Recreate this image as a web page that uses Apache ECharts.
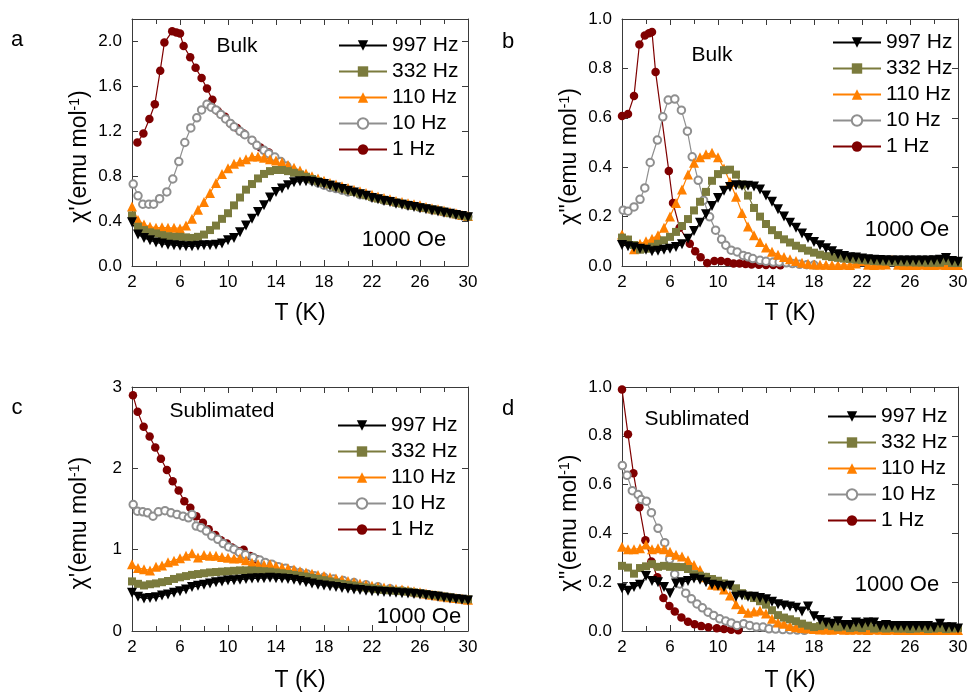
<!DOCTYPE html>
<html><head><meta charset="utf-8">
<script src="https://cdn.jsdelivr.net/npm/echarts@6.0.0/dist/echarts.min.js"></script>
<style>html,body{margin:0;padding:0;background:#fff}#c{width:972px;height:693px}</style>
</head><body><div id="c"></div>
<script>
// ---------- data ----------
const T05 = [2,2.5,3,3.5,4,4.5,5,5.5,6,6.5,7,7.5,8,8.5,9,9.5,10,10.5,11,11.5,12,12.5,13,13.5,14,14.5,15,15.5,16,16.5,17,17.5,18,18.5,19,19.5,20,20.5,21,21.5,22,22.5,23,23.5,24,24.5,25,25.5,26,26.5,27,27.5,28,28.5,29,29.5,30];

// panel a : bulk chi'
const a997 = [0.39,0.28,0.25,0.23,0.21,0.20,0.19,0.185,0.18,0.175,0.175,0.18,0.185,0.185,0.19,0.20,0.23,0.25,0.30,0.36,0.42,0.48,0.54,0.61,0.66,0.69,0.72,0.745,0.755,0.755,0.75,0.74,0.73,0.715,0.70,0.685,0.67,0.655,0.64,0.625,0.605,0.595,0.58,0.57,0.555,0.545,0.535,0.525,0.515,0.505,0.495,0.485,0.475,0.465,0.455,0.445,0.435];
const a332 = [0.45,0.35,0.32,0.30,0.29,0.275,0.265,0.26,0.26,0.255,0.25,0.26,0.28,0.32,0.36,0.42,0.47,0.54,0.61,0.68,0.73,0.78,0.82,0.845,0.855,0.855,0.845,0.83,0.815,0.795,0.775,0.755,0.74,0.725,0.705,0.69,0.675,0.66,0.645,0.63,0.615,0.60,0.59,0.58,0.565,0.555,0.545,0.535,0.525,0.515,0.505,0.495,0.485,0.47,0.46,0.45,0.44];
const a110 = [0.53,0.41,0.37,0.35,0.34,0.345,0.34,0.34,0.335,0.36,0.42,0.50,0.57,0.65,0.74,0.82,0.87,0.91,0.93,0.95,0.975,0.975,0.965,0.95,0.94,0.925,0.90,0.875,0.85,0.825,0.80,0.78,0.76,0.74,0.725,0.71,0.695,0.68,0.665,0.65,0.635,0.62,0.605,0.595,0.58,0.57,0.56,0.55,0.54,0.525,0.515,0.505,0.495,0.48,0.47,0.455,0.445];
const a10T = [2.1,2.5,2.9,3.4,3.8,4.3,4.9,5.4,5.9,6.4,6.9,7.4,7.8,8.25,8.6,9.0,9.4,9.8,10.2,10.5,11.0,11.4,12.0,12.4,13.0,13.4,13.9,14.4,14.9,15.4,15.9,16.5,17,17.5,18,18.5,19,19.5,20,21,22,23,24,25,26,27,28,29,30];
const a10 = [0.73,0.625,0.55,0.55,0.55,0.60,0.66,0.775,0.93,1.10,1.23,1.32,1.39,1.44,1.415,1.39,1.35,1.31,1.27,1.24,1.20,1.17,1.12,1.075,1.03,1.00,0.97,0.93,0.89,0.85,0.81,0.78,0.76,0.74,0.72,0.70,0.69,0.675,0.66,0.635,0.61,0.585,0.565,0.54,0.52,0.50,0.48,0.46,0.44];
const a1T = [2.45,2.95,3.45,3.9,4.35,4.7,5.35,5.7,6.0,6.3,6.85,7.3,7.8,8.25,8.7,9.15,9.75,10.2,10.75,11.3,12.0,12.7,13.4];
const a1 = [1.10,1.18,1.31,1.44,1.74,1.99,2.09,2.08,2.07,1.96,1.86,1.765,1.675,1.58,1.48,1.38,1.33,1.27,1.23,1.18,1.12,1.055,1.01];

// panel b : bulk chi''
const b997 = [0.085,0.08,0.076,0.07,0.066,0.06,0.062,0.066,0.07,0.077,0.088,0.11,0.142,0.175,0.21,0.243,0.275,0.305,0.32,0.327,0.325,0.325,0.322,0.31,0.285,0.26,0.23,0.2,0.175,0.155,0.132,0.113,0.097,0.084,0.072,0.06,0.048,0.04,0.035,0.034,0.03,0.027,0.025,0.024,0.023,0.022,0.022,0.022,0.022,0.022,0.022,0.022,0.023,0.025,0.032,0.02,0.017];
const b332 = [0.115,0.107,0.085,0.066,0.07,0.078,0.09,0.104,0.118,0.138,0.162,0.19,0.225,0.26,0.30,0.345,0.372,0.388,0.39,0.37,0.33,0.285,0.235,0.2,0.17,0.145,0.125,0.108,0.095,0.082,0.072,0.062,0.054,0.046,0.04,0.036,0.033,0.03,0.028,0.026,0.024,0.022,0.02,0.019,0.018,0.017,0.016,0.015,0.015,0.014,0.014,0.013,0.013,0.013,0.02,0.012,0.012];
const b110 = [0.128,0.105,0.068,0.09,0.1,0.11,0.125,0.155,0.2,0.255,0.31,0.37,0.418,0.44,0.452,0.458,0.44,0.395,0.34,0.28,0.215,0.16,0.125,0.097,0.075,0.058,0.046,0.036,0.027,0.02,0.013,0.009,0.006,0.005,0.005,0.004,0.004,0.005,0.004,0.01,0.02,0.005,0.004,0.005,0.006,0.025,0.005,0.004,0.004,0.004,0.005,0.004,0.004,0.005,0.004,0.004,0.004];
const b10T = [2.1,2.5,3.0,3.5,3.9,4.35,4.95,5.4,5.85,6.4,6.95,7.45,7.85,8.35,8.8,9.3,9.8,10.3,10.65,11.1,11.6,12.1,12.5,12.9,13.5,14.0,14.6,15.1,15.7,16.2,16.8,17.4,18];
const b10 = [0.226,0.222,0.239,0.27,0.316,0.419,0.51,0.604,0.672,0.676,0.631,0.546,0.442,0.347,0.266,0.199,0.145,0.108,0.084,0.064,0.057,0.043,0.037,0.03,0.023,0.019,0.016,0.016,0.013,0.01,0.007,0.005,0.004];
const b1T = [2.0,2.5,3.0,3.45,3.9,4.25,4.5,4.8,5.9,6.25,6.8,7.65,8.1,8.55,9.1,9.7,10.25,10.8,11.3,11.8,12.3,12.8,13.4,14.0,14.6,15.2];
const b1 = [0.607,0.615,0.688,0.897,0.933,0.942,0.947,0.785,0.385,0.255,0.155,0.09,0.06,0.035,0.012,0.02,0.02,0.016,0.01,0.01,0.008,0.006,0.005,0.004,0.004,0.003];

// panel c : sublimated chi'
const c997 = [0.47,0.42,0.40,0.405,0.415,0.435,0.45,0.47,0.49,0.51,0.54,0.555,0.57,0.585,0.60,0.61,0.62,0.625,0.63,0.64,0.645,0.65,0.65,0.655,0.65,0.645,0.64,0.63,0.615,0.60,0.585,0.57,0.56,0.55,0.54,0.53,0.52,0.51,0.505,0.495,0.49,0.485,0.48,0.475,0.47,0.465,0.46,0.455,0.45,0.44,0.43,0.42,0.41,0.40,0.39,0.385,0.375];
const c332 = [0.61,0.58,0.56,0.575,0.585,0.60,0.615,0.64,0.66,0.675,0.69,0.70,0.71,0.72,0.725,0.73,0.735,0.74,0.745,0.745,0.745,0.74,0.735,0.73,0.72,0.71,0.70,0.69,0.68,0.67,0.655,0.64,0.625,0.61,0.595,0.58,0.57,0.56,0.545,0.535,0.525,0.515,0.505,0.50,0.495,0.49,0.485,0.475,0.465,0.455,0.445,0.435,0.425,0.415,0.405,0.395,0.39];
const c110 = [0.82,0.775,0.76,0.745,0.79,0.805,0.845,0.865,0.895,0.925,0.955,0.905,0.935,0.925,0.925,0.91,0.90,0.89,0.895,0.87,0.84,0.825,0.815,0.82,0.80,0.785,0.77,0.755,0.735,0.72,0.705,0.69,0.675,0.66,0.645,0.63,0.615,0.60,0.585,0.57,0.555,0.545,0.535,0.525,0.515,0.51,0.50,0.49,0.475,0.46,0.445,0.435,0.425,0.415,0.405,0.395,0.385];
const c10T = [2.1,2.45,2.9,3.3,3.75,4.2,4.75,5.25,5.75,6.25,6.7,7.0,7.35,7.75,8.2,8.65,9.15,9.6,10.05,10.5,10.95,11.45,12.1,12.65,13.1,13.65,14.2,14.8,15.4,16,16.6,17.2,18,18.8,19.6,20.5,21.5,22.5,23.5,24.5,25.5,26.5,27.5,28.5,29.5];
const c10 = [1.555,1.473,1.465,1.453,1.412,1.465,1.48,1.453,1.433,1.412,1.392,1.433,1.29,1.27,1.229,1.168,1.127,1.075,1.034,1.006,0.966,0.937,0.904,0.872,0.843,0.822,0.79,0.77,0.745,0.72,0.70,0.68,0.66,0.64,0.62,0.595,0.57,0.545,0.52,0.495,0.47,0.45,0.43,0.41,0.39];
const c1T = [2.08,2.47,2.97,3.47,3.94,4.41,4.91,5.39,5.89,6.36,6.86,7.36,7.91,8.39,8.94,9.41,9.91,10.33,10.8,11.3,11.86,12.41,12.97,13.5,14.08,14.6,15.2];
const c1 = [2.90,2.695,2.51,2.39,2.255,2.117,1.98,1.84,1.726,1.595,1.515,1.412,1.331,1.25,1.18,1.115,1.075,1.026,0.985,1.0,0.923,0.883,0.843,0.822,0.79,0.77,0.745];

// panel d : sublimated chi''
const d997 = [0.175,0.165,0.18,0.19,0.225,0.205,0.20,0.18,0.155,0.195,0.20,0.205,0.215,0.21,0.20,0.19,0.185,0.18,0.185,0.14,0.145,0.14,0.14,0.135,0.13,0.12,0.11,0.105,0.10,0.095,0.08,0.10,0.06,0.045,0.035,0.03,0.04,0.025,0.025,0.035,0.03,0.035,0.035,0.02,0.025,0.02,0.02,0.02,0.02,0.02,0.02,0.02,0.015,0.03,0.015,0.015,0.01];
const d332 = [0.267,0.26,0.235,0.258,0.265,0.274,0.263,0.267,0.263,0.263,0.262,0.254,0.233,0.227,0.222,0.213,0.206,0.195,0.19,0.175,0.155,0.145,0.135,0.122,0.108,0.085,0.065,0.055,0.048,0.04,0.03,0.022,0.016,0.02,0.026,0.02,0.015,0.018,0.012,0.015,0.012,0.02,0.01,0.012,0.01,0.012,0.01,0.01,0.008,0.01,0.012,0.008,0.01,0.012,0.008,0.01,0.012];
const d110 = [0.345,0.335,0.335,0.339,0.355,0.335,0.339,0.335,0.325,0.312,0.305,0.29,0.27,0.25,0.22,0.19,0.186,0.17,0.145,0.11,0.09,0.075,0.08,0.084,0.072,0.05,0.035,0.03,0.02,0.015,0.012,0.01,0.008,0.006,0.006,0.005,0.008,0.005,0.005,0.006,0.005,0.004,0.006,0.005,0.004,0.005,0.004,0.004,0.004,0.004,0.004,0.004,0.004,0.004,0.004,0.004,0.004];
const d10T = [2.03,2.42,2.86,3.34,3.61,4.03,4.45,5.0,5.56,5.97,6.39,6.81,7.31,7.78,8.25,8.7,9.17,9.64,10.14,10.64,11.1,11.58,12.14,12.64,13.2,13.75,14.25,14.8,15.4,16,16.6,17.2];
const d10 = [0.678,0.638,0.575,0.559,0.539,0.532,0.485,0.421,0.362,0.294,0.233,0.193,0.155,0.132,0.111,0.095,0.077,0.064,0.05,0.041,0.033,0.023,0.03,0.023,0.016,0.016,0.009,0.008,0.006,0.005,0.004,0.003];
const d1T = [2.0,2.5,2.95,3.45,3.95,4.45,4.95,5.45,5.95,6.4,6.95,7.5,8.05,8.6,9.2,9.9,10.5,11.1,11.7];
const d1 = [0.99,0.806,0.647,0.507,0.372,0.285,0.22,0.135,0.102,0.08,0.055,0.038,0.028,0.02,0.015,0.011,0.008,0.005,0.003];

const legendNames = ['997 Hz','332 Hz','110 Hz','10 Hz','1 Hz'];
const xTicks = {min: 2, max: 30, interval: 4};
const yAxesCfg = [
  {min: 0, max: 2.2, interval: 0.4, dec: 1, name: "χ'(emu mol{sup|-1})"},
  {min: 0, max: 1.0, interval: 0.2, dec: 1, name: "χ''(emu mol{sup|-1})"},
  {min: 0, max: 3, interval: 1, dec: 0, name: "χ'(emu mol{sup|-1})"},
  {min: 0, max: 1.0, interval: 0.2, dec: 1, name: "χ''(emu mol{sup|-1})"}
];
const panels = [
  {s997:[T05,a997], s332:[T05,a332], s110:[T05,a110], s10:[a10T,a10], s1:[a1T,a1]},
  {s997:[T05,b997], s332:[T05,b332], s110:[T05,b110], s10:[b10T,b10], s1:[b1T,b1]},
  {s997:[T05,c997], s332:[T05,c332], s110:[T05,c110], s10:[c10T,c10], s1:[c1T,c1]},
  {s997:[T05,d997], s332:[T05,d332], s110:[T05,d110], s10:[d10T,d10], s1:[d1T,d1]}
];

// ---------- styles ----------
const FONT = 'Liberation Sans';
const AXC = '#3a3a3a';
const sty = {
  s1:   {name:'1 Hz',   color:'#7f0000', symbol:'circle',      size:8.5, rot:0},
  s10:  {name:'10 Hz',  color:'#8f8f8f', symbol:'emptyCircle', size:7.5, rot:0},
  s110: {name:'110 Hz', color:'#ff8000', symbol:'triangle',    size:10, rot:0},
  s332: {name:'332 Hz', color:'#7b7b3d', symbol:'rect',        size:8,  rot:0},
  s997: {name:'997 Hz', color:'#000000', symbol:'triangle',    size:10, rot:180}
};
const grids = [
  {left:132, top:19,  width:336, height:247},
  {left:622, top:19,  width:336, height:247},
  {left:132, top:387, width:336, height:245},
  {left:622, top:387, width:336, height:245}
];
const xNameGap = [36, 36, 38, 38];

const xAxis = [], yAxis = [], series = [], legend = [];
grids.forEach((g, i) => {
  const tickBase = {show:true, inside:true, length:6, lineStyle:{color:AXC, width:1}};
  const minor = {show:true, splitNumber:2, length:5, lineStyle:{color:AXC, width:1}};
  xAxis.push({gridIndex:i, type:'value', position:'bottom', min:xTicks.min, max:xTicks.max, interval:xTicks.interval,
    axisLine:{show:true, onZero:false, lineStyle:{color:AXC, width:1}},
    axisTick:tickBase, minorTick:minor, splitLine:{show:false},
    axisLabel:{color:'#000', fontSize:17, fontFamily:FONT, margin:8},
    name:'T (K)', nameLocation:'middle', nameGap:xNameGap[i],
    nameTextStyle:{color:'#000', fontSize:23, fontFamily:FONT}});
  xAxis.push({gridIndex:i, type:'value', position:'top', min:xTicks.min, max:xTicks.max, interval:xTicks.interval,
    axisLine:{show:true, onZero:false, lineStyle:{color:AXC, width:1}},
    axisTick:tickBase, minorTick:minor, splitLine:{show:false}, axisLabel:{show:false}});
  const yc = yAxesCfg[i];
  yAxis.push({gridIndex:i, type:'value', position:'left', min:yc.min, max:yc.max, interval:yc.interval,
    axisLine:{show:true, onZero:false, lineStyle:{color:AXC, width:1}},
    axisTick:tickBase, splitLine:{show:false},
    axisLabel:{color:'#000', fontSize:17, fontFamily:FONT, margin:10, showMaxLabel: yc.max === 2.2 ? false : true,
      formatter: v => Number(v).toFixed(yc.dec)},
    name: yc.name, nameLocation:'middle', nameGap:40, nameRotate:90,
    nameTextStyle:{color:'#000', fontSize:23, fontFamily:FONT, padding:[0,28,0,0],
      rich:{sup:{fontSize:14, fontFamily:FONT, color:'#000', verticalAlign:'top', padding:[0,0,10,0]}}}});
  yAxis.push({gridIndex:i, type:'value', position:'right', min:yc.min, max:yc.max, interval:yc.interval,
    axisLine:{show:true, onZero:false, lineStyle:{color:AXC, width:1}},
    axisTick:tickBase, splitLine:{show:false}, axisLabel:{show:false}});

  ['s1','s10','s110','s332','s997'].forEach(k => {
    const st = sty[k];
    const [Ts, vs] = panels[i][k];
    series.push({
      type:'line', name:st.name, xAxisIndex:2*i, yAxisIndex:2*i,
      data: Ts.map((t, j) => [t, vs[j]]),
      symbol:st.symbol, symbolSize:st.size, symbolRotate:st.rot,
      showSymbol:true, clip:true, animation:false, silent:true,
      lineStyle:{color:st.color, width:1.2},
      itemStyle:{color:st.color, borderWidth: st.symbol === 'emptyCircle' ? 1.4 : 0},
      emphasis:{disabled:true}
    });
  });
});

const legendPos = [
  {left:338, top:35}, {left:832, top:32}, {left:337, top:415}, {left:827, top:406}
];
legendPos.forEach(p => {
  legend.push({orient:'vertical', left:p.left, top:p.top, itemWidth:48, itemHeight:13, itemGap:5,
    selectedMode:false, padding:0, data: legendNames,
    textStyle:{color:'#000', fontSize:21, fontFamily:FONT}});
});

function txt(x, y, s, size) {
  return {type:'text', x:x, y:y, silent:true,
    style:{text:s, fill:'#000', font: size + 'px "' + FONT + '"', align:'center', verticalAlign:'middle'}};
}
const graphic = [
  txt(17, 40, 'a', 22), txt(508, 42, 'b', 22), txt(17, 408, 'c', 22), txt(508, 409, 'd', 22),
  txt(237, 46, 'Bulk', 21), txt(712, 55, 'Bulk', 21),
  txt(222, 411, 'Sublimated', 21), txt(697, 419, 'Sublimated', 21),
  txt(404, 240, '1000 Oe', 22), txt(907, 230, '1000 Oe', 22),
  txt(419, 617, '1000 Oe', 22), txt(897, 585, '1000 Oe', 22)
];

const chart = echarts.init(document.getElementById('c'), null, {renderer:'canvas'});
chart.setOption({
  animation:false, backgroundColor:'#fff',
  grid: grids, xAxis: xAxis, yAxis: yAxis, series: series, legend: legend, graphic: graphic
});
</script></body></html>
